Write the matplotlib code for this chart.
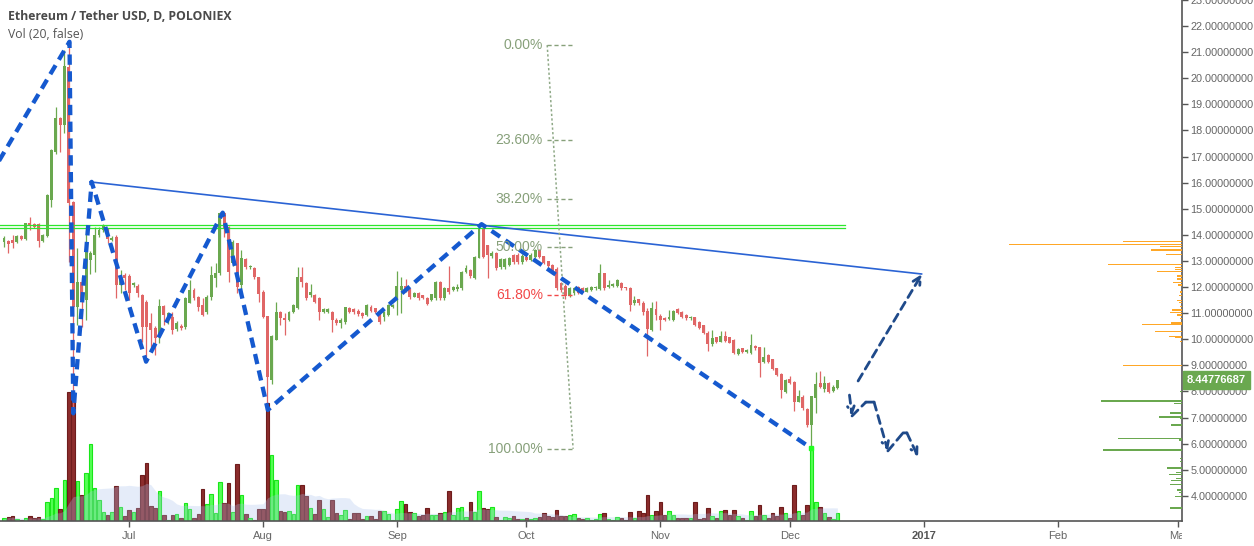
import numpy as np
import pandas as pd
import matplotlib
matplotlib.use('Agg')
import matplotlib.pyplot as plt
import matplotlib.dates as mdates
from matplotlib.ticker import FixedLocator, FormatStrFormatter
from matplotlib.transforms import Bbox, TransformedBbox, blended_transform_factory

# daily candles USDT_ETH, first bar 2016-06-02
opens = [13.74, 13.76, 13.80, 13.74, 13.95, 13.84, 14.44, 14.40, 14.40, 13.76,
         13.95, 15.33, 17.18, 18.46, 18.21, 20.44, 15.27, 11.24, 12.20, 11.50,
         13.04, 13.23, 13.99, 14.18, 14.18, 13.80, 13.93, 12.08, 12.46, 12.43,
         12.06, 12.04, 11.70, 11.44, 10.61, 10.44, 10.10, 11.27, 10.74, 10.86,
         10.38, 10.52, 10.48, 11.40, 11.88, 11.60, 11.31, 11.05, 11.60, 12.33,
         12.52, 14.82, 14.31, 12.91, 13.67, 12.08, 13.07, 12.75, 12.72, 12.37,
         11.82, 10.89, 8.44, 9.97, 11.03, 10.80, 10.74, 11.05, 11.18, 12.40,
         12.14, 11.69, 11.69, 11.57, 11.06, 11.06, 11.06, 10.74, 10.61, 10.67,
         11.18, 11.14, 11.08, 11.02, 10.93, 11.25, 11.18, 11.06, 10.86, 10.93,
         11.25, 11.50, 11.88, 12.04, 11.91, 11.63, 11.78, 11.69, 11.57, 11.50,
         11.57, 12.20, 11.57, 11.95, 11.88, 11.91, 11.95, 12.59, 12.67, 12.33,
         13.13, 14.21, 13.61, 13.19, 13.31, 12.78, 12.75, 12.84, 13.23, 13.23,
         12.97, 13.16, 13.04, 13.14, 13.42, 13.19, 12.99, 12.84, 12.68, 12.14,
         12.04, 11.66, 11.76, 12.01, 11.98, 11.82, 11.88, 11.95, 11.91, 12.52,
         11.99, 12.04, 12.04, 12.17, 11.99, 11.95, 11.38, 11.53, 11.40, 11.08,
         10.35, 11.16, 10.90, 10.80, 10.79, 10.74, 11.16, 11.06, 10.93, 10.80,
         10.84, 10.67, 10.54, 10.25, 9.82, 10.07, 9.91, 10.12, 10.07, 9.97,
         9.43, 9.65, 9.50, 9.48, 9.74, 9.69, 9.14, 9.40, 9.23, 8.88,
         8.67, 7.99, 8.46, 8.37, 7.61, 7.80, 7.33, 6.71, 7.74, 8.33,
         8.08, 8.33, 8.03, 8.15]
highs = [13.95, 13.80, 13.99, 13.98, 13.99, 14.47, 14.69, 14.45, 14.45, 14.02,
         15.56, 17.30, 18.91, 18.53, 21.08, 21.34, 15.30, 13.48, 12.40, 14.18,
         13.40, 14.31, 14.30, 14.40, 14.25, 13.95, 13.99, 12.65, 12.52, 12.50,
         12.20, 12.10, 11.75, 11.50, 10.99, 10.50, 11.54, 11.31, 11.05, 11.05,
         10.70, 10.60, 11.60, 12.27, 11.95, 11.65, 11.57, 11.70, 12.80, 12.91,
         14.87, 14.87, 14.35, 13.80, 13.70, 13.42, 13.10, 12.85, 12.75, 12.40,
         11.90, 10.90, 10.15, 11.44, 11.09, 10.99, 11.10, 11.35, 12.75, 12.75,
         12.20, 12.10, 11.75, 11.60, 11.20, 11.20, 11.10, 10.80, 10.80, 11.25,
         11.25, 11.20, 11.15, 11.05, 11.35, 11.30, 11.20, 11.10, 11.10, 11.35,
         11.35, 12.61, 12.40, 12.30, 11.95, 11.80, 11.80, 11.70, 11.60, 11.75,
         12.25, 12.25, 12.00, 12.80, 12.05, 12.10, 12.61, 12.85, 12.70, 13.20,
         14.30, 14.31, 13.61, 13.40, 13.35, 13.10, 13.10, 13.15, 13.25, 13.30,
         13.25, 13.20, 13.30, 13.45, 13.45, 13.20, 13.00, 12.90, 12.75, 12.20,
         12.10, 12.00, 12.00, 12.05, 12.00, 12.00, 12.05, 12.05, 12.88, 12.55,
         12.27, 12.15, 12.30, 12.20, 12.00, 12.00, 11.66, 11.55, 11.45, 11.21,
         11.44, 11.46, 10.95, 10.85, 11.12, 11.12, 11.20, 11.10, 10.95, 10.90,
         10.86, 10.70, 10.55, 10.30, 10.35, 10.10, 10.31, 10.31, 10.10, 10.00,
         9.65, 9.68, 9.62, 10.20, 9.78, 9.72, 9.69, 9.45, 9.25, 8.90,
         8.70, 8.47, 8.59, 8.40, 8.05, 7.85, 7.35, 7.84, 8.76, 8.80,
         8.59, 8.35, 8.25, 8.45]
lows = [13.52, 13.32, 13.48, 13.70, 13.80, 13.80, 14.18, 14.25, 13.55, 13.72,
        13.90, 15.08, 17.10, 17.18, 17.89, 12.97, 7.20, 10.54, 10.48, 10.74,
        12.50, 12.59, 13.90, 14.10, 13.70, 13.75, 11.57, 11.76, 11.90, 11.50,
        12.00, 11.60, 9.90, 9.33, 9.71, 9.40, 9.84, 10.54, 10.60, 10.20,
        10.30, 10.35, 10.40, 11.37, 11.50, 11.10, 10.90, 10.95, 11.50, 12.01,
        12.46, 13.93, 12.20, 12.80, 11.76, 11.69, 12.70, 12.70, 12.30, 11.44,
        10.80, 7.56, 8.30, 9.97, 10.54, 10.16, 10.70, 11.00, 11.15, 12.00,
        11.50, 11.60, 11.40, 10.74, 11.00, 11.00, 10.29, 10.55, 10.42, 10.60,
        11.00, 10.95, 10.90, 10.80, 10.90, 11.05, 11.00, 10.60, 10.70, 10.90,
        11.20, 10.93, 11.00, 11.80, 11.55, 11.60, 11.50, 11.55, 11.30, 11.45,
        11.50, 11.50, 11.50, 11.75, 11.85, 11.85, 11.90, 12.55, 12.35, 12.30,
        13.10, 13.10, 12.36, 13.10, 12.65, 12.70, 12.70, 12.80, 12.90, 12.90,
        12.90, 13.00, 13.00, 13.10, 13.10, 12.90, 12.75, 12.50, 11.90, 11.80,
        11.55, 11.60, 11.70, 11.75, 11.80, 11.80, 11.85, 11.90, 11.90, 11.90,
        11.95, 12.00, 12.00, 11.90, 11.90, 11.09, 11.31, 11.30, 10.91, 9.36,
        10.30, 10.74, 10.35, 10.70, 10.75, 10.70, 10.95, 10.80, 10.75, 10.75,
        10.50, 10.40, 10.20, 9.56, 9.74, 9.85, 9.88, 9.90, 9.85, 9.42,
        9.40, 9.47, 9.48, 9.45, 9.60, 8.57, 9.10, 9.10, 8.83, 8.60,
        7.73, 7.95, 8.30, 7.26, 7.58, 7.30, 6.65, 5.78, 7.19, 8.15,
        7.99, 7.95, 7.99, 8.10]
closes = [13.89, 13.64, 13.67, 13.95, 13.84, 14.44, 14.38, 14.31, 13.76, 13.99,
          15.52, 17.25, 18.46, 18.21, 20.47, 15.23, 11.24, 12.20, 11.50, 13.35,
          13.29, 13.99, 14.18, 14.34, 13.86, 13.89, 12.08, 12.40, 12.33, 11.76,
          12.14, 11.76, 10.48, 10.48, 10.35, 10.03, 11.27, 10.93, 10.99, 10.35,
          10.61, 10.42, 11.57, 11.88, 11.57, 11.25, 10.93, 11.63, 12.46, 12.52,
          14.85, 14.25, 12.59, 13.74, 12.01, 13.10, 12.75, 12.80, 12.37, 11.73,
          10.86, 8.55, 10.12, 11.05, 10.80, 10.74, 11.05, 11.31, 12.37, 12.20,
          11.57, 11.82, 11.44, 11.06, 11.15, 11.15, 10.74, 10.61, 10.74, 11.22,
          11.06, 11.03, 10.95, 10.89, 11.31, 11.09, 11.03, 10.67, 11.06, 11.31,
          11.31, 12.04, 12.04, 11.88, 11.63, 11.78, 11.57, 11.57, 11.35, 11.72,
          12.20, 11.57, 11.95, 11.82, 12.01, 12.01, 12.59, 12.72, 12.42, 13.16,
          14.21, 13.16, 13.23, 13.31, 12.72, 13.06, 13.06, 13.10, 12.97, 12.97,
          13.19, 13.04, 13.23, 13.42, 13.16, 12.93, 12.80, 12.59, 11.95, 11.88,
          11.66, 11.95, 11.95, 11.78, 11.85, 11.98, 12.01, 12.01, 12.52, 11.95,
          12.08, 12.12, 12.27, 11.95, 11.95, 11.31, 11.50, 11.38, 11.06, 10.38,
          11.21, 10.93, 10.74, 10.74, 10.86, 11.09, 11.02, 10.86, 10.80, 10.86,
          10.54, 10.44, 10.23, 9.82, 10.06, 9.91, 10.12, 9.94, 9.87, 9.48,
          9.61, 9.50, 9.59, 9.78, 9.65, 9.08, 9.33, 9.14, 8.86, 8.63,
          8.05, 8.44, 8.33, 7.61, 7.82, 7.35, 6.71, 7.84, 8.28, 8.18,
          8.31, 7.99, 8.16, 8.44776687]
volumes = [2.7, 4.0, 4.7, 1.7, 0.7, 3.0, 4.7, 3.0, 4.0, 1.7,
           18.7, 22.7, 32.7, 11.7, 40.7, 129, 127, 40.0, 25.7, 47.7,
           76.7, 32.7, 20.7, 9.0, 6.0, 8.7, 34.7, 14.0, 4.7, 10.7,
           8.7, 12.7, 45.7, 57.7, 14.7, 13.0, 29.7, 5.7, 0.7, 5.7,
           6.7, 3.0, 17.7, 12.0, 3.0, 6.7, 32.0, 16.7, 26.7, 7.7,
           38.7, 17.7, 37.7, 8.7, 56.7, 25.7, 6.7, 3.0, 1.3, 11.7,
           11.7, 117.7, 65.7, 40.7, 9.7, 9.0, 9.7, 6.7, 35.7, 35.7,
           24.7, 12.7, 6.7, 20.7, 11.7, 4.0, 20.7, 7.7, 6.0, 10.7,
           1.7, 7.7, 7.7, 1.7, 4.7, 4.7, 1.7, 9.7, 9.7, 6.7,
           1.0, 11.7, 19.7, 16.7, 8.7, 7.7, 4.7, 5.7, 12.7, 5.7,
           5.7, 7.7, 8.7, 29.7, 5.7, 12.7, 13.7, 4.0, 18.7, 8.7,
           29.7, 12.7, 11.7, 13.7, 4.0, 0.7, 4.0, 3.0, 4.7, 1.7,
           1.7, 2.7, 2.3, 3.0, 4.0, 7.7, 4.7, 4.0, 10.7, 5.0,
           4.7, 5.7, 6.7, 3.0, 1.7, 2.7, 0.7, 1.7, 6.7, 7.7,
           2.0, 1.0, 3.7, 3.0, 1.0, 8.7, 3.0, 10.0, 7.7, 25.7,
           5.7, 10.0, 18.7, 5.7, 10.0, 5.7, 3.0, 3.0, 3.0, 3.0,
           18.7, 2.3, 3.0, 12.7, 4.7, 3.0, 10.0, 11.0, 5.7, 11.0,
           4.7, 3.0, 1.0, 10.0, 4.7, 16.0, 5.7, 3.0, 7.7, 4.7,
           13.7, 7.7, 3.0, 35.7, 10.0, 5.7, 16.0, 74.0, 18.7, 13.7,
           7.7, 4.0, 2.0, 7.7]

# volume profile on the right edge (price level, size, thick row)
vp_prices = [13.76, 13.64, 13.56, 13.42, 13.25, 12.87, 12.75, 12.69, 12.60, 12.42,
             12.31, 12.19, 12.08, 11.81, 11.69, 11.50, 11.39, 11.27, 11.12, 11.04,
             10.93, 10.81, 10.61, 10.58, 10.31, 10.12, 10.05, 9.93, 9.01,
             7.98, 7.64, 7.52, 7.18, 7.02, 6.97, 6.71, 6.21, 6.16, 5.75,
             5.44, 5.30, 5.08, 4.91, 4.80, 4.67, 4.57, 4.44, 4.22, 4.11,
             3.98, 3.54]
vp_sizes = [58, 171, 22, 31, 16, 73, 7, 7, 25, 5,
            5, 9, 4, 2, 3, 5, 3, 2, 10, 12,
            5, 2, 11, 40, 27, 13, 7, 2, 58,
            2, 80, 8, 12, 23, 2, 11, 63, 3, 78,
            2, 2, 15, 6, 13, 6, 11, 12, 5, 3,
            7, 12]
vp_thick = [0, 0, 0, 0, 0, 0, 0, 0, 0, 1,
            1, 0, 1, 0, 0, 0, 0, 0, 1, 0,
            1, 0, 1, 0, 0, 0, 0, 0, 0,
            0, 1, 0, 1, 0, 0, 1, 0, 1, 1,
            0, 0, 1, 0, 0, 0, 0, 0, 1, 0,
            0, 1]

# drawings: (days after 2016-06-01, price)
zig_days = [-1.0, 16.17, 17.05, 21.3, 33.9, 51.65, 62.1, 111.6, 187.97]
zig_prices = [16.6, 21.40, 7.16, 16.03, 9.14, 14.85, 7.29, 14.41, 5.82]
trend_days = [20.9, 213.5]
trend_prices = [16.03, 12.5]
hline_prices = [14.38, 14.28]
hline_days = [-1.0, 195.8]
fib_days = [126.8, 132.8]
fib_prices = [21.27, 5.80]
fib_levels = [0.0, 0.236, 0.382, 0.5, 0.618, 1.0]
fc_up_days = [198.8, 213.6]
fc_up_prices = [8.40, 12.50]
fc_days = [196.8, 197.4, 200.6, 202.5, 205.7, 209.2, 210.1, 212.7]
fc_prices = [7.86, 7.06, 7.59, 7.59, 5.72, 6.41, 6.41, 5.49]

tick_dates = ['2016-07-01', '2016-08-01', '2016-09-01', '2016-10-01', '2016-11-01',
              '2016-12-01', '2017-01-01', '2017-02-01', '2017-03-01']
tick_labels = ['Jul', 'Aug', 'Sep', 'Oct', 'Nov', 'Dec', '2017', 'Feb', 'Mar']

GREEN = '#6aa84f'
RED = '#e06666'
GREY = '#555555'

W, H = 1254, 546
fig = plt.figure(figsize=(W / 100, H / 100), dpi=100)
ax = fig.add_axes([0, 25 / H, 1182 / W, 521 / H])

t0 = mdates.date2num(pd.Timestamp('2016-06-01').to_pydatetime())
dates = pd.date_range('2016-06-02', periods=len(closes), freq='D')
x = mdates.date2num(dates.to_pydatetime())
o = np.array(opens)
c = np.array(closes)
up = c >= o
col = np.where(up, GREEN, RED)

# volume pane underneath
ax_vol = ax.twinx()
vol = np.array(volumes)
vface = np.where(up, '#55ff55', '#8b2c2c')
vedge = np.where(up, '#19e619', '#6e1c1c')
ax_vol.bar(x, vol, width=0.82, color=vface, edgecolor=vedge, linewidth=0.8, zorder=2)
vol_ma = pd.Series(vol).rolling(20, min_periods=1).mean()
ax_vol.fill_between(x, 0, vol_ma, color='#a9c3ee', alpha=0.3, lw=0, zorder=3)
ax_vol.set_ylim(0, vol.max() * 521 / 129)
ax_vol.yaxis.set_visible(False)
for s in ax_vol.spines.values():
    s.set_visible(False)
ax_vol.set_zorder(0)
ax.set_zorder(1)
ax.patch.set_visible(False)

# candles
ax.vlines(x, lows, highs, colors=col, lw=0.9, zorder=3)
body_lo = np.minimum(o, c)
body_h = np.maximum(np.abs(c - o), 0.035)
ax.bar(x, body_h, bottom=body_lo, width=0.68, color=col, lw=0, zorder=4)

# drawings
for hp in hline_prices:
    ax.plot(t0 + np.array(hline_days), [hp, hp], color='#2ee62e', lw=0.9, zorder=5)
ax.plot(t0 + np.array(trend_days), trend_prices, color='#2a63d4', lw=1.2, zorder=5)
ax.plot(t0 + np.array(zig_days), zig_prices, color='#1559cf', lw=3.1,
        linestyle=(0, (2.4, 1.5)), solid_capstyle='butt', zorder=6)
ax.plot(t0 + zig_days[-1], zig_prices[-1], 's', color='#22ff22', ms=3, zorder=7)

# fib retracement
fx0, fx1 = t0 + fib_days[0], t0 + fib_days[1]
ax.plot([fx0, fx1], fib_prices, color='#8fa987', lw=1.1, linestyle=(0, (1.5, 1.5)), zorder=5)
for lev in fib_levels:
    p = fib_prices[0] + (fib_prices[1] - fib_prices[0]) * lev
    fcol = '#f24848' if lev == 0.618 else '#87a07a'
    ax.plot([fx0, fx1], [p, p], color=fcol, lw=1.0, linestyle=(0, (3, 2)), zorder=5)
    ax.text(fx0 - 1.0, p, '%.2f%%' % (lev * 100), color=fcol, fontsize=10,
            family='Liberation Sans', ha='right', va='center', zorder=6)

# forecast arrows
NAVY = '#1f4a8a'
ax.annotate('', xy=(t0 + fc_up_days[1], fc_up_prices[1]), xytext=(t0 + fc_up_days[0], fc_up_prices[0]),
            arrowprops=dict(arrowstyle='->', color=NAVY, lw=2, linestyle=(0, (3, 2)),
                            mutation_scale=14, shrinkA=0, shrinkB=0), zorder=6)
fd = t0 + np.array(fc_days)
for i0, i1 in [(0, 1), (1, 2), (2, 3), (3, 4), (4, 5), (5, 6), (6, 7)]:
    style = '->' if i1 in (1, 4, 7) else '-'
    ax.annotate('', xy=(fd[i1], fc_prices[i1]), xytext=(fd[i0], fc_prices[i0]),
                arrowprops=dict(arrowstyle=style, color=NAVY, lw=2, linestyle=(0, (3, 2)),
                                mutation_scale=12, shrinkA=0, shrinkB=0), zorder=6)

# volume profile
ax_vp = ax.twiny()
vp_col = [GREEN if p < closes[-1] else '#ffa726' for p in vp_prices]
vp_h = [0.085 if t else 0.04 for t in vp_thick]
ax_vp.barh(vp_prices, vp_sizes, height=vp_h, color=vp_col, lw=0)
ax_vp.set_xlim(max(vp_sizes) * 1170 / 171, 0)
ax_vp.xaxis.set_visible(False)
for s in ax_vp.spines.values():
    s.set_visible(False)
ax_vp.patch.set_visible(False)
ax_vp.set_zorder(2)

# axes
ax.set_xlim(t0 + 0.074, t0 + 0.074 + 1182 / 4.318)
ax.set_ylim(3.034, 23.0)
ax.yaxis.tick_right()
ax.yaxis.set_major_locator(FixedLocator(range(4, 24)))
ax.yaxis.set_major_formatter(FormatStrFormatter('%.8f'))
tk = mdates.date2num([pd.Timestamp(d).to_pydatetime() for d in tick_dates])
ax.xaxis.set_major_locator(FixedLocator(tk))
ax.set_xticklabels(tick_labels)
ax.tick_params(axis='both', colors=GREY, labelcolor='#666666', length=4, width=1)
ax.tick_params(axis='y', labelsize=7.8, pad=2)
ax.tick_params(axis='x', labelsize=8, pad=3)
for lab in ax.get_yticklabels() + ax.get_xticklabels():
    lab.set_family('Liberation Sans')
clipbox = TransformedBbox(Bbox([[0, 0], [1182 / W, 1]]), fig.transFigure)
for lab in ax.get_xticklabels():
    if lab.get_text() == '2017':
        lab.set_fontweight('bold')
        lab.set_color('#555555')
    lab.set_clip_on(True)
    lab.set_clip_box(clipbox)
for side in ['top', 'left']:
    ax.spines[side].set_visible(False)
for side in ['right', 'bottom']:
    ax.spines[side].set_color(GREY)
    ax.spines[side].set_linewidth(1.2)

# last price tag
tr = blended_transform_factory(ax.transAxes, ax.transData)
ax.text(1 + 5 / 1182, closes[-1], '%.8f' % closes[-1], transform=tr, color='white',
        fontsize=8, family='Liberation Sans', fontweight='bold', ha='left', va='center',
        clip_on=False, zorder=10,
        bbox=dict(boxstyle='square,pad=0.35', fc=GREEN, ec=GREEN))

fig.text(8 / W, 1 - 16 / H, 'Ethereum / Tether USD, D, POLONIEX', fontsize=8.8,
         fontweight='bold', family='Open Sans', color='#4a4a4a', va='center')
fig.text(8 / W, 1 - 34 / H, 'Vol (20, false)', fontsize=8.8, family='Open Sans',
         color='#555555', va='center')

fig.savefig('out.png', dpi=100)
